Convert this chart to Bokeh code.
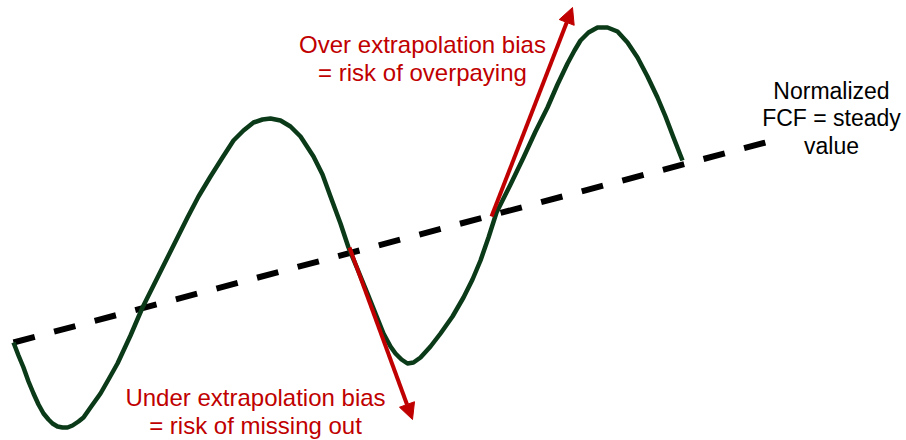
from bokeh.plotting import figure
from bokeh.models import Range1d, Arrow, NormalHead
from bokeh.core.properties import value
from bokeh.embed import file_html
from bokeh.resources import INLINE

# Cash-flow cycle curve (screen-like coordinates, y grows downward)
curve_x = [13, 18, 23, 28, 33, 38, 43, 48, 52, 57, 62, 67, 72, 78, 83, 90, 100, 108, 117, 130, 142, 155, 167,
           177, 187, 198, 210, 222, 233, 243, 253, 262, 270, 280, 290, 300, 313, 322, 330, 340, 348, 358,
           367, 375, 383, 390, 395, 401, 407, 413, 420, 430, 440, 452, 463, 472, 480, 488, 496, 510, 523,
           535, 547, 557, 567, 574, 580, 588, 597, 607, 617, 627, 637, 647, 657, 665, 673, 682]
curve_y = [342, 355, 367, 381, 393, 404, 413, 419, 423, 426, 427, 427, 425, 421, 417, 407, 393, 379, 363, 335,
           307, 281, 257, 237, 217, 196, 176, 157, 140, 130, 122, 119, 118, 120, 126, 136, 156, 174, 196, 223,
           247, 271, 293, 313, 333, 346, 353, 359, 363, 362, 357, 346, 333, 316, 297, 279, 260, 237, 212, 184,
           157, 131, 107, 84, 63, 50, 40, 32, 27, 27, 31, 42, 57, 76, 97, 116, 137, 160]

# Normalized FCF (steady value) trend line
trend_x = [13, 765]
trend_y = [342, 142]

# Extrapolation arrows: start -> tip
arrow_over = (491, 216, 572, 7)
arrow_under = (349, 247, 412, 419)

# Labels
over_lines = ["Over extrapolation bias", "= risk of overpaying"]
under_lines = ["Under extrapolation bias", "= risk of missing out"]
norm_lines = ["Normalized", "FCF = steady", "value"]

GREEN = "#0b3a19"
RED = "#c00000"
FONT = value("Liberation Sans")

W, H = 906, 440
p = figure(width=W, height=H, x_range=Range1d(0, W), y_range=Range1d(H, 0),
           output_backend="svg", toolbar_location=None, min_border=0,
           x_axis_location=None, y_axis_location=None)
p.grid.visible = False
p.outline_line_color = None
p.background_fill_color = "white"
p.border_fill_color = "white"

p.line(trend_x, trend_y, line_color="black", line_width=6, line_dash="22 20", line_cap="butt")
p.line(curve_x, curve_y, line_color=GREEN, line_width=4.5, line_join="round", line_cap="butt")

for (x0, y0, x1, y1) in (arrow_over, arrow_under):
    p.add_layout(Arrow(x_start=x0, y_start=y0, x_end=x1, y_end=y1,
                       line_color=RED, line_width=4,
                       end=NormalHead(size=16, fill_color=RED, line_color=RED, line_width=1)))

p.text(x=[422, 422], y=[44, 72], text=over_lines, text_align="center", text_baseline="alphabetic",
       text_color=RED, text_font=FONT, text_font_size="24px")
p.text(x=[255, 255], y=[397, 425], text=under_lines, text_align="center", text_baseline="alphabetic",
       text_color=RED, text_font=FONT, text_font_size="24px")
p.text(x=[831, 831, 831], y=[90, 117.5, 145], text=norm_lines, text_align="center", text_baseline="alphabetic",
       text_color="black", text_font=FONT, text_font_size="23px")

open("out.html", "w").write(file_html(p, INLINE))
